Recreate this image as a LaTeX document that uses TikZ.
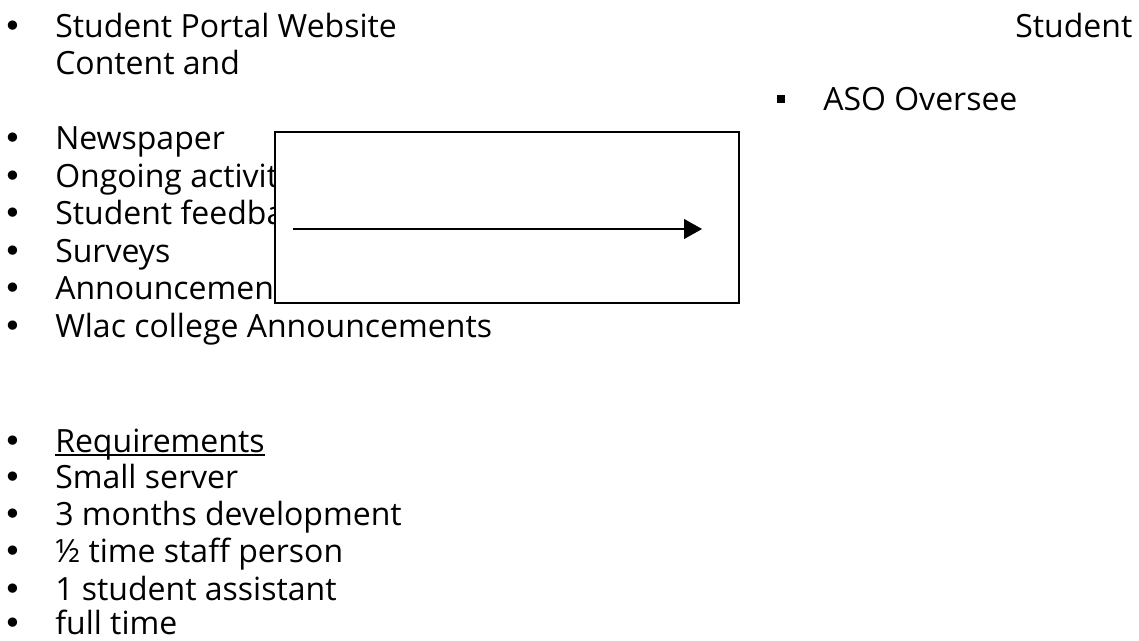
\documentclass[tikz,border=0pt]{standalone}
\usepackage{fontspec}
\setmainfont{Open Sans}
\newfontfamily\dotfont{DejaVu Sans}
\usetikzlibrary{arrows.meta}
\begin{document}
\begin{tikzpicture}[x=0.75pt,y=-0.75pt,font=\fontsize{24}{28}\selectfont]
  \tikzset{
    item/.style={anchor=base west,inner sep=0pt},
    dot/.style={anchor=base,inner sep=0pt,font=\fontsize{24}{28}\dotfont},
    frame/.style={draw=black,fill=white,line width=1.1pt,
      minimum width=348pt,minimum height=128pt,inner sep=0pt},
    flow/.style={-{Triangle[length=13.5pt,width=15pt]},line width=0.8pt}
  }
  \useasboundingbox (0,0) rectangle (1139,640);

  % top heading
  \node[item] (portal) at (55,37) {Student Portal Website};
  \node[item] (content) at (55,74) {Content and};
  \node[item] (student) at (1015,37) {Student};
  \node[item] (aso) at (823,110) {ASO Oversee};
  \node[dot] (asodot) at ([xshift=-31.5pt]aso.base west) {\rule[5.25pt]{6pt}{6pt}};

  % content list
  \node[item] (news) at (55,149) {Newspaper};
  \node[item] (ongoing) at (55,187) {Ongoing activities};
  \node[item] (feedback) at (55,224) {Student feedback};
  \node[item] (surveys) at (55,262) {Surveys};
  \node[item] (announce) at (55,299) {Announcements};
  \node[item] (wlac) at (55,337) {Wlac college Announcements};

  % box over the list
  \node[frame] (box) at (507,217.5) {};
  \coordinate (from) at (293,229);
  \coordinate (to) at (702,229);
  \draw[flow] (from) -- (to);

  % requirements
  \node[item] (req) at (55,452) {Requirements};
  \draw[line width=1.3pt] ([yshift=-2pt]req.base west) -- ([yshift=-2pt]req.base east);
  \node[item] (server) at (55,488) {Small server};
  \node[item] (months) at (55,525) {3 months development};
  \node[item] (half) at (55,562) {½ time staff person};
  \node[item] (assist) at (55,600) {1 student assistant};
  \node[item] (full) at (55,634) {full time};

  % bullets
  \foreach \n in {portal,news,ongoing,feedback,surveys,announce,wlac,
                  req,server,months,half,assist,full}
    \node[dot] (\n dot) at ([xshift=-31.5pt]\n.base west) {•};
\end{tikzpicture}
\end{document}
